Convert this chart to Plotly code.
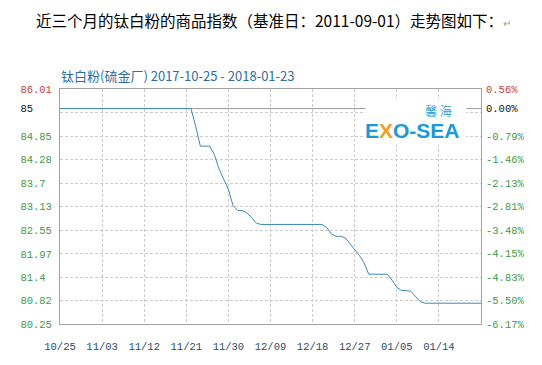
import plotly.graph_objects as go
from datetime import date, timedelta

# ---------------- data ----------------
start_date = "2017-10-25"
end_date = "2018-01-23"
base_value = 85.53  # index on base day (0.00%)

index_values = [
    85.53, 85.53, 85.53, 85.53, 85.53, 85.53, 85.53, 85.53, 85.53, 85.53,
    85.53, 85.53, 85.53, 85.53, 85.53, 85.53, 85.53, 85.53, 85.53, 85.53,
    85.53, 85.53, 85.53, 85.53, 85.53, 85.53, 85.53, 85.53, 85.53, 85.10,
    84.61, 84.61, 84.61, 84.40, 84.05, 83.80, 83.55, 83.15, 83.03, 83.03,
    82.97, 82.85, 82.72, 82.69, 82.69, 82.69, 82.69, 82.69, 82.69, 82.69,
    82.69, 82.69, 82.69, 82.69, 82.69, 82.69, 82.69, 82.62, 82.46, 82.40,
    82.40, 82.36, 82.22, 82.08, 81.93, 81.75, 81.47, 81.47, 81.47, 81.47,
    81.47, 81.32, 81.15, 81.07, 81.07, 81.05, 80.92, 80.80, 80.76, 80.76,
    80.76, 80.76, 80.76, 80.76, 80.76, 80.76, 80.76, 80.76, 80.76, 80.76,
    80.76,
]

x_tick_dates = ["2017-10-25", "2017-11-03", "2017-11-12", "2017-11-21", "2017-11-30",
                "2017-12-09", "2017-12-18", "2017-12-27", "2018-01-05", "2018-01-14"]
x_tick_labels = ["10/25", "11/03", "11/12", "11/21", "11/30",
                 "12/09", "12/18", "12/27", "01/05", "01/14"]

y_tick_values = [80.25, 80.82, 81.4, 81.97, 82.55, 83.13, 83.7, 84.28, 84.85, 85.53, 86.01]
y_tick_labels = ["80.25", "80.82", "81.4", "81.97", "82.55", "83.13", "83.7", "84.28", "84.85", "85", "86.01"]
y_grid_values = [80.82, 81.4, 81.97, 82.55, 83.13, 83.7, 84.28, 84.85, 85.43]

pct_tick_values = [-6.17, -5.50, -4.83, -4.15, -3.48, -2.81, -2.13, -1.46, -0.79, 0.00, 0.56]
pct_tick_labels = ["-6.17%", "-5.50%", "-4.83%", "-4.15%", "-3.48%", "-2.81%", "-2.13%",
                   "-1.46%", "-0.79%", "0.00%", "0.56%"]

y_min, y_max = 80.25, 86.01

# ---------------- styling ----------------
GREEN = "#3f9b3f"
RED = "#c83c3c"
BLACK = "#111111"
LINE = "#3f89b6"
GRID = "#cccccc"
FRAME = "#a3a3a3"
MONO = "Liberation Mono"

BODY = 8  # default page margin around the plot div

d0 = date.fromisoformat(start_date)
dates = [(d0 + timedelta(days=i)).isoformat() for i in range(len(index_values))]
pct_values = [(v / base_value - 1) * 100 for v in index_values]


def colored(label, color):
    return f'<span style="color:{color}">{label}</span>'


left_text = []
for lab in y_tick_labels:
    padded = lab + "\u00a0" * (5 - len(lab))
    if lab == "86.01":
        left_text.append(colored(padded, RED))
    elif lab == "85":
        left_text.append(colored(padded, BLACK))
    else:
        left_text.append(padded)

right_text = []
for lab in pct_tick_labels:
    if lab == "0.56%":
        right_text.append(colored(lab, RED))
    elif lab == "0.00%":
        right_text.append(colored(lab, BLACK))
    else:
        right_text.append(lab)

fig = go.Figure()
# invisible helpers so the overlay axes are drawn
fig.add_trace(go.Scatter(x=dates, y=index_values, mode="lines", yaxis="y3",
                         line=dict(color="rgba(0,0,0,0)", width=0), hoverinfo="skip"))
fig.add_trace(go.Scatter(x=dates, y=pct_values, mode="lines", yaxis="y2",
                         line=dict(color="rgba(0,0,0,0)", width=0), hoverinfo="skip"))
fig.add_trace(go.Scatter(x=dates, y=index_values, mode="lines",
                         line=dict(color=LINE, width=1), hoverinfo="x+y"))

# plot area in page pixels
PX_L, PX_R, PX_T, PX_B = 51, 481, 89, 329

fig.update_layout(
    width=542 - BODY, height=365 - BODY,
    margin=dict(l=PX_L - BODY, r=542 - PX_R, t=PX_T - BODY, b=365 - PX_B),
    paper_bgcolor="white", plot_bgcolor="white",
    showlegend=False,
    xaxis=dict(type="date", range=[start_date, end_date],
               tickvals=x_tick_dates, ticktext=x_tick_labels,
               showgrid=True, gridcolor=GRID, gridwidth=1, griddash="3px,2px",
               showline=True, mirror=True, linecolor=FRAME, linewidth=1,
               zeroline=False, ticks="", ticklabelstandoff=12,
               tickfont=dict(family=MONO, size=10.5, color="#1f4d6b")),
    yaxis=dict(range=[y_min, y_max], tickvals=y_tick_values, ticktext=left_text,
               showgrid=False,
               showline=True, mirror=True, linecolor=FRAME, linewidth=1,
               zeroline=False, ticks="", ticklabelstandoff=5,
               tickfont=dict(family=MONO, size=10.5, color=GREEN)),
    yaxis3=dict(overlaying="y", side="left", range=[y_min, y_max],
                tickvals=y_grid_values, showticklabels=False,
                showgrid=True, gridcolor=GRID, gridwidth=1, griddash="3px,2px",
                showline=False, zeroline=False, ticks=""),
    yaxis2=dict(overlaying="y", side="right",
                range=[(y_min / base_value - 1) * 100, (y_max / base_value - 1) * 100],
                tickvals=pct_tick_values, ticktext=right_text,
                showgrid=False, showline=False, zeroline=False, ticks="",
                ticklabelstandoff=4,
                tickfont=dict(family=MONO, size=10.5, color=GREEN)),
)

# base line (0.00%)
fig.add_shape(type="line", xref="paper", yref="y", x0=0, x1=1,
              y0=base_value, y1=base_value, line=dict(color="#9a9a9a", width=1),
              layer="below")


def px(xp):
    return (xp - PX_L) / (PX_R - PX_L)


def py(yp):
    return (PX_B - yp) / (PX_B - PX_T)


# logo area
fig.add_shape(type="rect", xref="paper", yref="paper",
              x0=px(363), x1=px(466), y0=py(146), y1=py(100),
              fillcolor="white", line=dict(width=0), layer="above")
fig.add_annotation(xref="paper", yref="paper", x=px(438), y=py(111),
                   text="馨 海", showarrow=False, xanchor="center", yanchor="middle",
                   font=dict(family="Noto Sans CJK SC", size=12, color="#2a9fda"))
fig.add_annotation(xref="paper", yref="paper", x=px(411), y=py(131),
                   text="<b>E<span style=\"color:#f0a020\">X</span>O-SEA</b>",
                   showarrow=False, xanchor="center", yanchor="middle",
                   font=dict(family="Liberation Sans Narrow, Liberation Sans", size=21,
                             color="#1a9ad8"))

# headings
fig.add_annotation(xref="paper", yref="paper", x=px(24), y=py(19),
                   text="近三个月的钛白粉的商品指数（基准日：2011-09-01）走势图如下："
                        "<span style=\"font-size:10px;color:#999999\">↵</span>",
                   showarrow=False, xanchor="left", yanchor="middle",
                   font=dict(family="Noto Sans CJK SC", size=15.5, color="#000000"))
fig.add_annotation(xref="paper", yref="paper", x=px(50), y=py(75),
                   text="钛白粉(硫金厂) 2017-10-25 - 2018-01-23",
                   showarrow=False, xanchor="left", yanchor="middle",
                   font=dict(family="Noto Sans CJK SC", size=13, color="#2e6f9f"))

fig.write_html("out.html")
